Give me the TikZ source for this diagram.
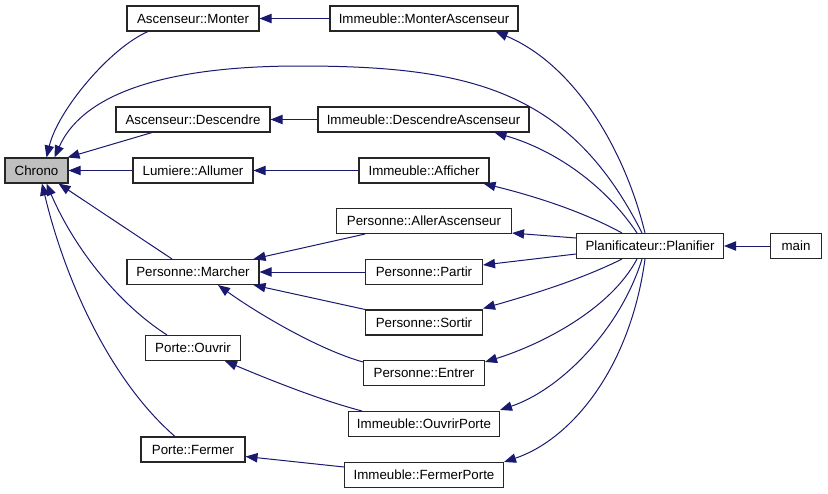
\documentclass[tikz,border=0pt]{standalone}
\usepackage{fontspec}
\setmainfont{Liberation Sans}
\usetikzlibrary{arrows.meta,calc}
\definecolor{edgeblue}{HTML}{191970}
\definecolor{chronofill}{HTML}{BFBFBF}
\begin{document}
\begin{tikzpicture}[x=0.75pt,y=-0.75pt,
  box/.style={draw=black!85,line width=0.8pt,fill=white,inner sep=0pt,minimum height=25*0.75pt,font=\fontsize{10}{12}\selectfont},
  wd/.style={minimum width=#1*0.75pt},
  e/.style={draw=edgeblue,line width=0.75pt,-{Triangle[length=9pt,width=7pt]}}]
\useasboundingbox (0,0) rectangle (828,493);
\fill[white] (0,0) rectangle (828,493);
% nodes
\node[box,wd=63,fill=chronofill] (chrono) at (36.5,170.5) {Chrono};
\node[box,wd=132] (mont) at (193,18.5) {Ascenseur::Monter};
\node[box,wd=154] (desc) at (193,119.5) {Ascenseur::Descendre};
\node[box,wd=120] (allum) at (193,170.5) {Lumiere::Allumer};
\node[box,wd=132] (march) at (193,272) {Personne::Marcher};
\node[box,wd=95] (ouvr) at (193,348) {Porte::Ouvrir};
\node[box,wd=104] (ferm) at (193,449.5) {Porte::Fermer};
\node[box,wd=188] (imont) at (424,18.5) {Immeuble::MonterAscenseur};
\node[box,wd=211] (idesc) at (423.5,119.5) {Immeuble::DescendreAscenseur};
\node[box,wd=130] (iaff) at (424,170.5) {Immeuble::Afficher};
\node[box,wd=175] (aller) at (424,221) {Personne::AllerAscenseur};
\node[box,wd=117] (partir) at (424,272) {Personne::Partir};
\node[box,wd=117] (sortir) at (424,322.5) {Personne::Sortir};
\node[box,wd=121] (entrer) at (424,373) {Personne::Entrer};
\node[box,wd=151] (iouv) at (424,424) {Immeuble::OuvrirPorte};
\node[box,wd=159] (iferm) at (424,475) {Immeuble::FermerPorte};
\node[box,wd=147] (plan) at (650,246) {Planificateur::Planifier};
\node[box,wd=51] (main) at (796,246) {main};
% edges to Chrono
\draw[e] ($(mont.south)+(-45,0)$) .. controls (110,48) and (58,110) .. ($(chrono.north)+(10,0)$);
\draw[e] ($(plan.north)+(-8,0)$) .. controls (570,90) and (470,66) .. (300,66) .. controls (150,66) and (80,100) .. ($(chrono.north)+(18,0)$);
\draw[e] ($(desc.south)+(-41,0)$) -- ($(chrono.north east)+(-1,0)$);
\draw[e] (allum.west) -- (chrono.east);
\draw[e] ($(march.north)+(-21,0)$) -- ($(chrono.south)+(22,0)$);
\draw[e] ($(ouvr.north)+(-26,0)$) .. controls (120,305) and (75,250) .. ($(chrono.south)+(10,0)$);
\draw[e] ($(ferm.north)+(-18,0)$) .. controls (110,380) and (65,280) .. ($(chrono.south)+(5.5,0)$);
% middle column to left column
\draw[e] (imont.west) -- (mont.east);
\draw[e] (idesc.west) -- (desc.east);
\draw[e] (iaff.west) -- (allum.east);
\draw[e] ($(aller.south west)+(29,0)$) -- ($(march.north east)+(-6,0)$);
\draw[e] (partir.west) -- (march.east);
\draw[e] ($(sortir.north west)+(0,0)$) -- ($(march.south east)+(-6,0)$);
\draw[e] ($(entrer.north west)+(0,2)$) .. controls (320,350) and (260,315) .. ($(march.south)+(25,0)$);
\draw[e] ($(iouv.north west)+(14,0)$) .. controls (320,400) and (270,380) .. ($(ouvr.south)+(32,0)$);
\draw[e] ($(iferm.west)+(0,-8)$) -- ($(ferm.east)+(0,7)$);
% from Planifier
\draw[e] ($(plan.north)+(-5,0)$) .. controls (625,150) and (575,65) .. ($(imont.south east)+(-23,0)$);
\draw[e] ($(plan.north)+(-13,0)$) .. controls (605,185) and (555,150) .. ($(idesc.south east)+(-35,0)$);
\draw[e] ($(plan.north)+(-28,0)$) .. controls (580,210) and (530,195) .. ($(iaff.south east)+(-6,0)$);
\draw[e] ($(plan.west)+(0,-8)$) -- ($(aller.south east)+(0,-1)$);
\draw[e] ($(plan.west)+(0,8)$) -- ($(partir.east)+(0,-7)$);
\draw[e] ($(plan.south)+(-28,0)$) .. controls (580,280) and (530,295) .. ($(sortir.north east)+(0,-1)$);
\draw[e] ($(plan.south)+(-13,0)$) .. controls (610,310) and (540,345) .. ($(entrer.north east)+(0,2)$);
\draw[e] ($(plan.south)+(-8,0)$) .. controls (620,330) and (560,390) .. ($(iouv.north east)+(0,-1)$);
\draw[e] ($(plan.south)+(-5,0)$) .. controls (630,370) and (570,440) .. ($(iferm.north east)+(0,0)$);
\draw[e] (main.west) -- (plan.east);
\end{tikzpicture}
\end{document}
